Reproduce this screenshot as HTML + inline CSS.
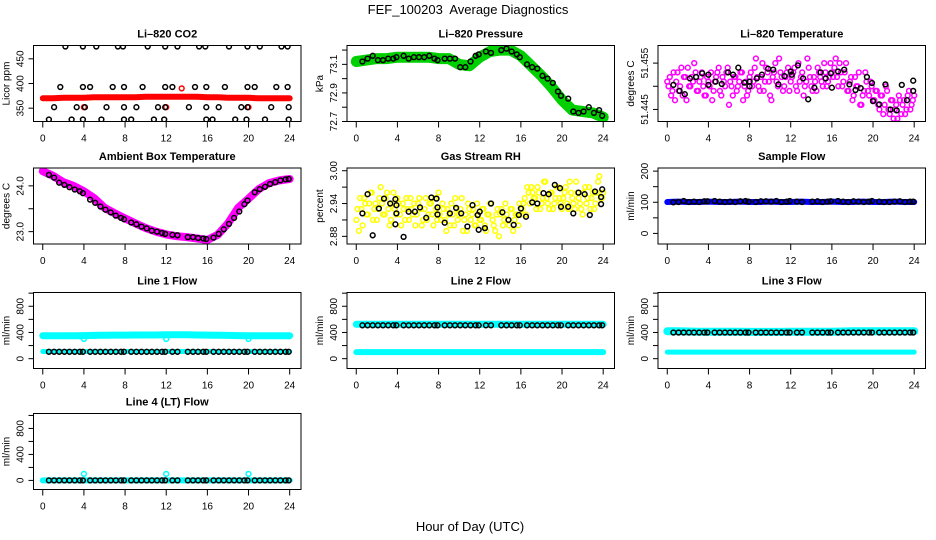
<!DOCTYPE html>
<html><head><meta charset="utf-8"><style>
html,body{margin:0;padding:0;background:#fff;}
svg{display:block;font-family:"Liberation Sans",Arial,sans-serif;}
</style></head><body>
<svg id="chart" width="936" height="540" viewBox="0 0 936 540" xmlns="http://www.w3.org/2000/svg">
<rect width="936" height="540" fill="#fff"/>
<text x="468" y="14" font-size="13" text-anchor="middle">FEF_100203&#160; Average Diagnostics</text>
<text x="470" y="531" font-size="13" text-anchor="middle">Hour of Day (UTC)</text>
</svg>
<script>
// ---- data ----
const hours = [0,1,2,3,4,5,6,7,8,9,10,11,12,13,14,15,16,17,18,19,20,21,22,23,24];
const quarterHours = [0,0.25,0.5,0.75,1,1.25,1.5,1.75,2,2.25,2.5,2.75,3,3.25,3.5,3.75,4,4.25,4.5,4.75,5,5.25,5.5,5.75,6,6.25,6.5,6.75,7,7.25,7.5,7.75,8,8.25,8.5,8.75,9,9.25,9.5,9.75,10,10.25,10.5,10.75,11,11.25,11.5,11.75,12,12.25,12.5,12.75,13,13.25,13.5,13.75,14,14.25,14.5,14.75,15,15.25,15.5,15.75,16,16.25,16.5,16.75,17,17.25,17.5,17.75,18,18.25,18.5,18.75,19,19.25,19.5,19.75,20,20.25,20.5,20.75,21,21.25,21.5,21.75,22,22.25,22.5,22.75,23,23.25,23.5,23.75,24];
const quarterHoursB = [0.12,0.37,0.62,0.87,1.12,1.37,1.62,1.87,2.12,2.37,2.62,2.87,3.12,3.37,3.62,3.87,4.12,4.37,4.62,4.87,5.12,5.37,5.62,5.87,6.12,6.37,6.62,6.87,7.12,7.37,7.62,7.87,8.12,8.37,8.62,8.87,9.12,9.37,9.62,9.87,10.12,10.37,10.62,10.87,11.12,11.37,11.62,11.87,12.12,12.37,12.62,12.87,13.12,13.37,13.62,13.87,14.12,14.37,14.62,14.87,15.12,15.37,15.62,15.87,16.12,16.37,16.62,16.87,17.12,17.37,17.62,17.87,18.12,18.37,18.62,18.87,19.12,19.37,19.62,19.87,20.12,20.37,20.62,20.87,21.12,21.37,21.62,21.87,22.12,22.37,22.62,22.87,23.12,23.37,23.62,23.87];
const halfHourBlackT = [0.6,1.1,1.6,2.1,2.6,3.1,3.6,3.9,4.6,5.1,5.6,6.1,6.6,7.1,7.6,7.9,8.6,9.1,9.6,10.1,10.6,11.1,11.6,11.9,12.6,13.1,14.1,14.6,15.1,15.6,15.9,16.6,17.1,17.6,18.1,18.6,19.1,19.6,19.9,20.6,21.1,21.6,22.1,22.6,23.1,23.6,23.9];

// CO2
const co2Red = [370,370,371,371,371,372,372,372,372,372,373,373,373,373,373,373,372,372,371,371,371,370,370,370,370];
const co2BlackT = [2.2,3.9,5.2,7.3,7.8,10.2,11.9,13.1,15.2,15.8,18.1,19.9,21.1,23.2,23.8, 1.7,3.9,4.6,6.8,7.9,9.7,11.9,12.6,14.8,15.9,17.7,19.9,20.6,22.7,23.8, 1.1,3.3,4.1,6.2,7.9,9.1,11.2,11.9,14.2,15.9,17.1,19.3,19.9,22.2,23.9, 0.6,2.8,3.9,5.7,7.9,8.6,10.8,11.8,15.9,16.5,18.7,19.8,21.6,23.9];
const co2BlackV = [475,475,475,475,475,475,475,475,475,475,475,475,475,475,475, 393,393,393,393,393,393,393,393,393,393,393,393,393,393,393, 352,352,352,352,352,352,352,352,352,352,352,352,352,352,352, 327,327,327,327,327,327,327,327,327,327,327,327,327,327];
const co2RedExtraT = [4,12,20,13.5];
const co2RedExtraV = [352,352,352,390];

// Pressure
const presGreen = [73.12,73.13,73.14,73.14,73.15,73.15,73.15,73.15,73.14,73.14,73.10,73.09,73.15,73.19,73.20,73.20,73.16,73.09,73.02,72.94,72.85,72.78,72.77,72.76,72.73];
const presBlack = [73.12,73.14,73.16,73.13,73.13,73.14,73.14,73.15,73.16,73.14,73.15,73.15,73.15,73.16,73.14,73.13,73.14,73.14,73.14,73.08,73.08,73.12,73.16,73.17,73.19,73.18,73.20,73.21,73.19,73.17,73.15,73.10,73.08,73.07,73.02,73.00,72.97,72.91,72.88,72.86,72.77,72.76,72.77,72.80,72.76,72.78,72.74];

// Li-820 temperature
const tempMag = [51.451,51.452,51.449,51.447,51.453,51.450,51.448,51.452,51.454,51.450,51.451,51.453,51.449,51.452,51.450,51.448,51.451,
51.453,51.449,51.452,51.454,51.448,51.451,51.453,51.446,51.450,51.452,51.449,51.451,51.453,51.450,51.448,51.452,
51.450,51.454,51.452,51.449,51.455,51.451,51.453,51.448,51.452,51.455,51.450,51.453,51.449,51.452,51.454,51.451,
51.453,51.450,51.455,51.452,51.448,51.451,51.454,51.450,51.452,51.449,51.453,51.451,51.455,51.450,51.452,51.453,
51.454,51.452,51.455,51.450,51.453,51.449,51.451,51.447,51.452,51.450,51.446,51.448,51.453,51.449,51.451,51.447,
51.449,51.446,51.448,51.444,51.450,51.445,51.447,51.443,51.446,51.448,51.444,51.447,51.445,51.449,51.446,51.448];
const tempMagB = [51.450,51.448,51.453,51.451,51.449,51.454,51.452,51.447,51.450,51.452,51.455,51.449,51.451,51.453,51.448,51.452,
51.450,51.447,51.451,51.453,51.449,51.452,51.450,51.454,51.451,51.448,51.452,51.450,51.453,51.447,51.451,51.449,
51.453,51.451,51.456,51.450,51.452,51.449,51.454,51.451,51.447,51.453,51.451,51.456,51.452,51.450,51.453,51.449,
51.452,51.454,51.449,51.451,51.453,51.450,51.456,51.452,51.449,51.451,51.454,51.452,51.450,51.453,51.451,51.455,
51.452,51.456,51.450,51.453,51.451,51.455,51.449,51.452,51.448,51.450,51.453,51.446,51.449,51.451,51.448,51.450,
51.447,51.449,51.445,51.448,51.446,51.449,51.444,51.447,51.445,51.443,51.447,51.446,51.444,51.448,51.445,51.447];
const tempBlackT = [0.6,1.2,1.7,2.2,2.8,3.4,4,4,4.7,5.3,5.9,6.4,6.9,7.5,8,8,8.7,9.2,9.8,10.3,10.8,11.4,12,12.1,12.7,13.2,13.7,14.3,14.9,15.4,15.9,16,16.6,17.2,17.7,18.3,18.8,19.4,19.9,20,20.6,21.2,21.7,22.3,22.8,23.3,23.9,23.9];
const tempBlackV = [51.4503,51.449,51.4483,51.4517,51.452,51.4528,51.4525,51.4503,51.451,51.4505,51.453,51.4525,51.454,51.4508,51.451,51.45,51.4517,51.4525,51.4538,51.4536,51.4504,51.4522,51.4532,51.4525,51.4545,51.4517,51.4472,51.4497,51.453,51.4517,51.4528,51.4497,51.4532,51.4536,51.4504,51.4492,51.4496,51.452,51.4507,51.4468,51.4461,51.4504,51.445,51.4448,51.4503,51.447,51.4512,51.449];

// Ambient box temperature
const ambMag = [24.32,24.22,24.08,24.0,23.88,23.73,23.52,23.4,23.29,23.18,23.08,23.0,22.94,22.9,22.88,22.85,22.82,22.93,23.18,23.52,23.72,23.93,24.06,24.12,24.15];
const ambBlack = [24.24,24.18,24.07,24.02,23.97,23.92,23.88,23.84,23.7,23.63,23.55,23.48,23.42,23.35,23.3,23.27,23.2,23.16,23.11,23.07,23.02,23.0,22.97,22.95,22.93,22.92,22.88,22.88,22.86,22.85,22.84,22.87,22.95,23.05,23.17,23.3,23.44,23.6,23.68,23.86,23.93,23.98,24.04,24.08,24.12,24.14,24.15];

// Gas stream RH
const rhYel = [2.91,2.89,2.93,2.95,2.92,2.94,2.96,2.93,2.91,2.95,2.94,2.92,2.96,2.90,2.94,2.93,2.95,
2.92,2.94,2.91,2.93,2.95,2.92,2.90,2.94,2.93,2.91,2.95,2.92,2.94,2.90,2.93,2.96,
2.91,2.93,2.89,2.92,2.94,2.90,2.93,2.92,2.95,2.91,2.89,2.93,2.92,2.90,2.94,2.91,
2.93,2.90,2.92,2.94,2.91,2.89,2.93,2.92,2.90,2.94,2.91,2.93,2.89,2.92,2.90,2.92,
2.94,2.92,2.96,2.97,2.95,2.93,2.96,2.94,2.98,2.95,2.93,2.96,2.94,2.97,2.95,2.93,
2.96,2.94,2.98,2.95,2.93,2.96,2.94,2.92,2.97,2.95,2.93,2.96,2.94,2.98,2.95,2.96];
const rhYelB = [2.93,2.95,2.90,2.94,2.92,2.96,2.91,2.94,2.93,2.97,2.92,2.95,2.93,2.91,2.96,2.92,
2.94,2.90,2.93,2.95,2.91,2.93,2.94,2.92,2.95,2.90,2.93,2.91,2.94,2.92,2.95,2.91,
2.92,2.94,2.91,2.93,2.90,2.92,2.95,2.91,2.93,2.89,2.92,2.94,2.91,2.93,2.90,2.92,
2.91,2.93,2.89,2.92,2.94,2.90,2.92,2.88,2.93,2.91,2.92,2.90,2.93,2.91,2.92,2.94,
2.93,2.95,2.97,2.94,2.96,2.95,2.97,2.93,2.95,2.98,2.94,2.96,2.93,2.95,2.97,2.94,
2.95,2.97,2.93,2.96,2.94,2.98,2.95,2.93,2.96,2.94,2.97,2.95,2.93,2.96,2.99,2.95];
const rhBlackT = [0.6,1.1,1.6,2.2,2.7,3.3,3.8,3.9,3.9,3.8,4.6,5.1,5.7,6.2,6.8,7.3,7.8,7.9,7.9,8.6,9.1,9.7,10.2,10.8,11.3,11.8,11.9,12,12.5,13.1,14.2,14.8,15.3,15.8,16,16.5,17.1,17.6,18.2,18.7,19.3,19.8,19.9,20.6,21.1,21.6,22.2,22.7,23.2,23.8,23.9,23.8];
const rhBlackV = [2.922,2.957,2.882,2.931,2.949,2.94,2.948,2.922,2.937,2.902,2.879,2.925,2.925,2.933,2.914,2.951,2.949,2.92,2.933,2.905,2.922,2.932,2.922,2.898,2.937,2.919,2.892,2.925,2.895,2.94,2.924,2.91,2.901,2.919,2.931,2.916,2.942,2.94,2.959,2.957,2.974,2.968,2.934,2.934,2.922,2.96,2.957,2.919,2.962,2.952,2.966,2.939];

// Flows
const sampleBlue = [101,102,101,101,102,101,101,102,101,101,102,101,101,102,101,101,102,101,101,102,101,101,102,101,101];
const sampleBlack = [100,101,104,101,102,101,103,103,104,102,101,102,101,103,104,102,101,103,103,102,104,101,102,104,102,101,102,103,101,102,103,104,102,101,103,102,101,102,104,102,101,101,102,103,101,102,102];
const line1CyanHi = [350,350,350,350,352,355,358,360,360,362,362,362,365,365,365,362,360,358,355,352,350,350,350,350,350];
const line1CyanLo = [110,110,110,110,110,110,110,110,110,110,110,110,110,110,110,110,110,110,110,110,110,110,110,110,110];
const line1Black = [105,105,105,105,105,105,105,105,105,105,105,105,105,105,105,105,105,105,105,105,105,105,105,105,105,105,105,105,105,105,105,105,105,105,105,105,105,105,105,105,105,105,105,105,105,105,105];
const line1OutT = [4,12,20];
const line1OutV = [300,300,300];
const line2CyanHi = [525,525,525,525,525,525,525,525,525,525,525,525,525,525,525,525,525,525,525,525,525,525,525,525,525];
const line2CyanLo = [100,100,100,100,100,100,100,100,100,100,100,100,100,100,100,100,100,100,100,100,100,100,100,100,100];
const line2Black = [510,510,510,510,510,510,510,510,510,510,510,510,510,510,510,510,510,510,510,510,510,510,510,510,510,510,510,510,510,510,510,510,510,510,510,510,510,510,510,510,510,510,510,510,510,510,510];
const line3CyanHi = [420,420,415,412,410,410,410,410,408,408,408,408,410,410,410,412,412,415,418,420,420,420,420,420,420];
const line3CyanLo = [100,100,100,100,100,100,100,100,100,100,100,100,100,100,100,100,100,100,100,100,100,100,100,100,100];
const line3Black = [400,400,400,400,400,400,400,400,400,400,400,400,400,400,400,400,400,400,400,400,400,400,400,400,400,400,400,400,400,400,400,400,400,400,400,400,400,400,400,400,400,400,400,400,400,400,400];
const line4Cyan = [0,0,0,0,0,0,0,0,0,0,0,0,0,0,0,0,0,0,0,0,0,0,0,0,0];
const line4Black = [0,0,0,0,0,0,0,0,0,0,0,0,0,0,0,0,0,0,0,0,0,0,0,0,0,0,0,0,0,0,0,0,0,0,0,0,0,0,0,0,0,0,0,0,0,0,0];
const line4OutT = [4,12,20];
const line4OutV = [100,100,100];

const xTicks = [0,4,8,12,16,20,24];

// ---- drawing ----
const NS = 'http://www.w3.org/2000/svg';
const svg = document.getElementById('chart');
function mk(tag, attrs, parent){
  const e = document.createElementNS(NS, tag);
  for (const k in attrs) e.setAttribute(k, attrs[k]);
  (parent||svg).appendChild(e);
  return e;
}
const COLS = [33.5, 347, 658];
const ROWS = [45.5, 168, 292.5, 413.5];
const W = 267.5, H = 76;

function panel(col, row, title, ylab, ylim, yTicks, yLabels, name){
  const g = mk('g', {});
  
  
  const L = COLS[col], T = ROWS[row];
  const sx = v => L + (v + 0.9) / 26 * W;
  const sy = v => T + H - (v - ylim[0]) / (ylim[1] - ylim[0]) * H;
  const clip = 'clip-' + name;
  const cp = mk('clipPath', {id: clip}, g);
  mk('rect', {x: L, y: T, width: W, height: H}, cp);
  const plot = mk('g', {'clip-path': 'url(#' + clip + ')'}, g);
  
  
  const box = mk('rect', {x: L, y: T, width: W, height: H, fill: 'none', stroke: '#000', 'stroke-width': 1}, g);
  
  
  const t = mk('text', {x: L + W/2, y: T - 8, 'font-size': 11, 'font-weight': 'bold', 'text-anchor': 'middle'}, g);
  t.textContent = title;
  
  
  const xa = mk('g', {}, g);
  
  
  mk('line', {x1: sx(xTicks[0]), x2: sx(xTicks[xTicks.length-1]), y1: T+H, y2: T+H, stroke: '#000'}, xa);
  xTicks.forEach(v => {
    mk('line', {x1: sx(v), x2: sx(v), y1: T+H, y2: T+H+6, stroke: '#000'}, xa);
    const tl = mk('text', {x: sx(v), y: T+H+20, 'font-size': 10, 'text-anchor': 'middle'}, xa);
    tl.textContent = v;
    
    
  });
  const ya = mk('g', {}, g);
  
  
  yTicks.forEach((v, i) => {
    mk('line', {x1: L-5, x2: L, y1: sy(v), y2: sy(v), stroke: '#000'}, ya);
    const tx = L - 10, ty = sy(v);
    const tl = mk('text', {x: tx, y: ty, 'font-size': 10, 'text-anchor': 'middle', transform: 'rotate(-90 ' + tx + ' ' + ty + ')'}, ya);
    tl.textContent = yLabels[i];
    
    
  });
  const ax = L - 24, ay = T + H/2;
  const yt = mk('text', {x: ax, y: ay, 'font-size': 10, 'text-anchor': 'middle', transform: 'rotate(-90 ' + ax + ' ' + ay + ')'}, g);
  yt.textContent = ylab;
  
  
  return {plot, sx, sy};
}
function band(p, xs, ys, color, w, nm){
  const pts = xs.map((x, i) => p.sx(x).toFixed(1) + ',' + p.sy(ys[i]).toFixed(1)).join(' ');
  const pl = mk('polyline', {points: pts, fill: 'none', stroke: color, 'stroke-width': w, 'stroke-linejoin': 'round', 'stroke-linecap': 'round'}, p.plot);
  
  
}
function pts(p, xs, ys, color, nm, r, sw){
  const g = mk('g', {}, p.plot);
  
  
  xs.forEach((x, i) => {
    const c = mk('circle', {cx: p.sx(x).toFixed(1), cy: p.sy(ys[i]).toFixed(1), r: r||2.4, fill: 'none', stroke: color, 'stroke-width': sw||1.5}, g);
    
    
  });
}

let p = panel(0, 0, 'Li\u2013820 CO2', 'Licor ppm', [323, 477], [350,400,450], ['350','400','450'], 'co2');
band(p, hours, co2Red, '#f00', 6, 'co2-red-series');
pts(p, co2RedExtraT, co2RedExtraV, '#f00', 'co2-red-points');
pts(p, co2BlackT, co2BlackV, '#000', 'co2-black-points');

p = panel(1, 0, 'Li\u2013820 Pressure', 'kPa', [72.7, 73.232], [72.7,72.8,72.9,73.0,73.1,73.2], ['72.7','','72.9','','73.1',''], 'pressure');
band(p, hours, presGreen, '#00d000', 11, 'pressure-green-series');
pts(p, halfHourBlackT, presBlack, '#000', 'pressure-black-points');

p = panel(2, 0, 'Li\u2013820 Temperature', 'degrees C', [51.4424, 51.4588], [51.445,51.450,51.455], ['51.445','','51.455'], 'li820-temp');
pts(p, quarterHours, tempMag, '#f0f', 'temp-magenta-points');
pts(p, quarterHoursB, tempMagB, '#f0f', 'temp-magenta-points-b');
pts(p, tempBlackT, tempBlackV, '#000', 'temp-black-points');

p = panel(0, 1, 'Ambient Box Temperature', 'degrees C', [22.73, 24.39], [23.0,23.5,24.0], ['23.0','','24.0'], 'ambient');
band(p, hours, ambMag, '#f0f', 8, 'ambient-magenta-series');
pts(p, halfHourBlackT, ambBlack, '#000', 'ambient-black-points');

p = panel(1, 1, 'Gas Stream RH', 'percent', [2.866, 3.005], [2.88,2.91,2.94,2.97,3.00], ['2.88','','2.94','','3.00'], 'gas-rh');
pts(p, quarterHours, rhYel, '#ff0', 'rh-yellow-points');
pts(p, quarterHoursB, rhYelB, '#ff0', 'rh-yellow-points-b');
pts(p, rhBlackT, rhBlackV, '#000', 'rh-black-points');

p = panel(2, 1, 'Sample Flow', 'ml/min', [-34, 210], [0,50,100,150,200], ['0','','100','','200'], 'sample-flow');
band(p, hours, sampleBlue, '#00f', 6, 'sample-blue-series');
pts(p, halfHourBlackT, sampleBlack, '#000', 'sample-black-points');

const flowTicks = [0,200,400,600,800,1000], flowLabels = ['0','','400','','800',''];
p = panel(0, 2, 'Line 1 Flow', 'ml/min', [-150, 1010], flowTicks, flowLabels, 'line1');
band(p, hours, line1CyanHi, '#0ff', 7, 'line1-cyan-high');
band(p, hours, line1CyanLo, '#0ff', 5, 'line1-cyan-low');
pts(p, line1OutT, line1OutV, '#0ff', 'line1-cyan-outliers');
pts(p, halfHourBlackT, line1Black, '#000', 'line1-black-points');
p = panel(1, 2, 'Line 2 Flow', 'ml/min', [-150, 1010], flowTicks, flowLabels, 'line2');
band(p, hours, line2CyanHi, '#0ff', 7, 'line2-cyan-high');
band(p, hours, line2CyanLo, '#0ff', 6, 'line2-cyan-low');
pts(p, halfHourBlackT, line2Black, '#000', 'line2-black-points');
p = panel(2, 2, 'Line 3 Flow', 'ml/min', [-150, 1010], flowTicks, flowLabels, 'line3');
band(p, hours, line3CyanHi, '#0ff', 8, 'line3-cyan-high');
band(p, hours, line3CyanLo, '#0ff', 5, 'line3-cyan-low');
pts(p, halfHourBlackT, line3Black, '#000', 'line3-black-points');
p = panel(0, 3, 'Line 4 (LT) Flow', 'ml/min', [-140, 1030], flowTicks, flowLabels, 'line4');
band(p, hours, line4Cyan, '#0ff', 6, 'line4-cyan-series');
pts(p, line4OutT, line4OutV, '#0ff', 'line4-cyan-outliers');
pts(p, halfHourBlackT, line4Black, '#000', 'line4-black-points');
</script>
</body></html>
